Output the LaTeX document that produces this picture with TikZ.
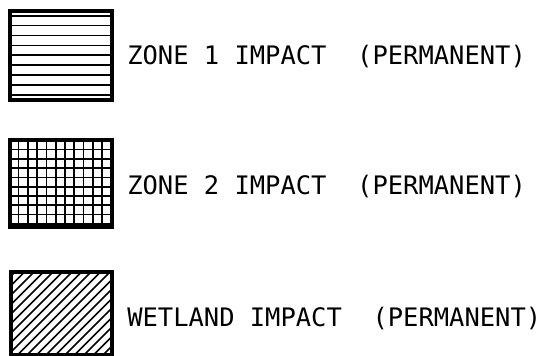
\documentclass[tikz,border=0pt]{standalone}
\usepackage{fontspec}
\newfontfamily\cadfont{DejaVu Sans Mono}
\begin{document}
\begin{tikzpicture}[x=0.75pt,y=-0.75pt,
  frame/.style={draw=black,line width=2.4pt},
  fill line/.style={draw=black,line width=1.3pt},
  label text/.style={anchor=base west,inner sep=0pt,font=\cadfont\fontsize{19.1pt}{21pt}\selectfont}]
\useasboundingbox (0,0) rectangle (546,356);
% Zone 1 box
\coordinate (b1a) at (10,11);
\coordinate (b1b) at (112,100);
\foreach \y in {15.7,25.6,35.5,45.4,55.3,65.2,75.1,85.0,94.9}
  \draw[fill line] (10,\y) -- (112,\y);
\draw[frame] (b1a) rectangle (b1b);
\node[label text] (t1) at (127,65) {ZONE 1 IMPACT~~(PERMANENT)};
% Zone 2 box
\coordinate (b2a) at (10,140);
\coordinate (b2b) at (112,227);
\foreach \x in {18.5,27.8,37.1,46.4,55.7,65.0,74.3,83.6,92.9,102.2}
  \draw[fill line] (\x,140) -- (\x,227);
\foreach \y in {149.5,158.8,168.1,177.4,186.7,196.0,205.3,214.6,223.9}
  \draw[fill line] (10,\y) -- (112,\y);
\draw[frame] (b2a) rectangle (b2b);
\node[label text] (t2) at (127,195) {ZONE 2 IMPACT~~(PERMANENT)};
% Wetland box
\coordinate (b3a) at (11,272);
\coordinate (b3b) at (112,355);
\begin{scope}
  \clip (b3a) rectangle (b3b);
  \foreach \k in {0,...,20}
    \draw[fill line] ({15+9.5*\k-100},372) -- ({15+9.5*\k},272);
\end{scope}
\draw[frame] (b3a) rectangle (b3b);
\node[label text] (t3) at (127,326) {WETLAND IMPACT~~(PERMANENT)};
\end{tikzpicture}
\end{document}
